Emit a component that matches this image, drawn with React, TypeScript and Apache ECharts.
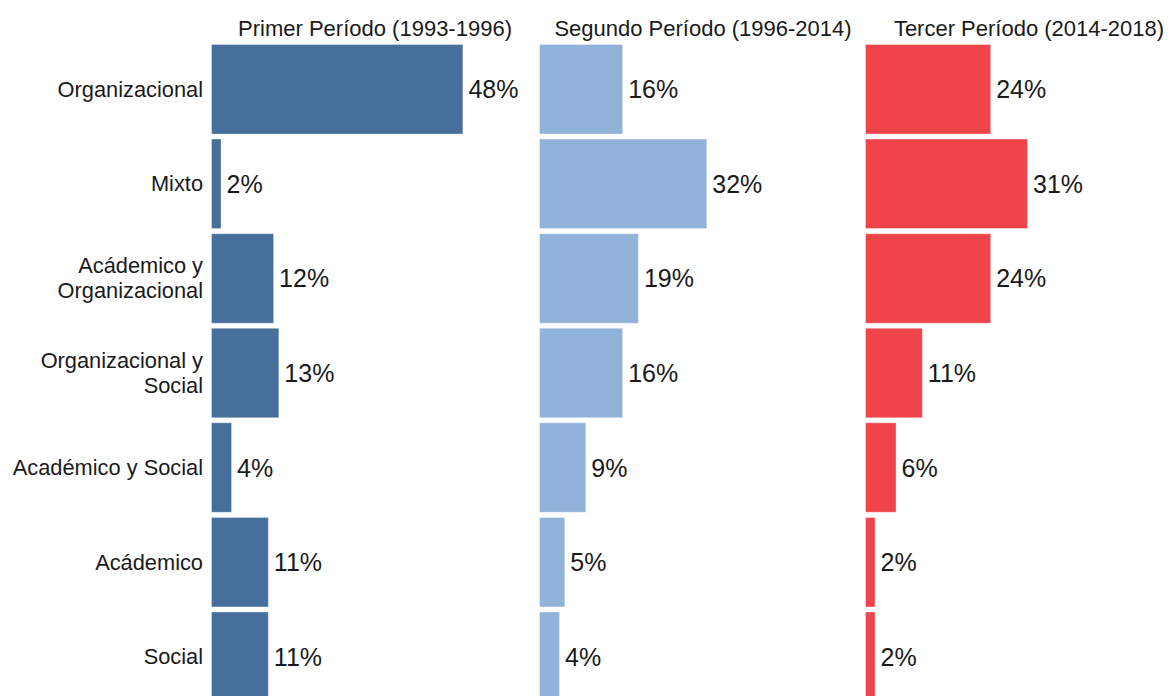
import React, { useEffect, useRef } from "react";
import * as echarts from "echarts";

const categories = [
  "Organizacional",
  "Mixto",
  "Acádemico y\nOrganizacional",
  "Organizacional y\nSocial",
  "Académico y Social",
  "Acádemico",
  "Social",
];
const periodTitles = [
  "Primer Período (1993-1996)",
  "Segundo Período (1996-2014)",
  "Tercer Período (2014-2018)",
];
const primerValues = [48, 2, 12, 13, 4, 11, 11];
const segundoValues = [16, 32, 19, 16, 9, 5, 4];
const tercerValues = [24, 31, 24, 11, 6, 2, 2];
const periodColors = ["#466F9C", "#92B3D9", "#EE444A"];

const FONT = "'Liberation Sans', Arial, Helvetica, sans-serif";

export default function App() {
  const ref = useRef<HTMLDivElement>(null);
  useEffect(() => {
    if (!ref.current) return;
    const chart = echarts.init(ref.current, null, { renderer: "svg" });
    const series = [primerValues, segundoValues, tercerValues];
    const lefts = [211, 539, 865];
    const width = 326;
    const top = 42;
    const height = 662;
    const xMax = 62;

    chart.setOption({
      animation: false,
      backgroundColor: "#ffffff",
      textStyle: { fontFamily: FONT },
      title: periodTitles.map((t, i) => ({
        text: t,
        left: lefts[i] + width / 2 - 4,
        top: 12,
        textAlign: "center",
        textStyle: {
          fontFamily: FONT,
          fontSize: 22,
          fontWeight: "normal",
          color: "#1a1a1a",
        },
      })),
      grid: lefts.map((l) => ({ left: l, top, width, height, containLabel: false })),
      xAxis: lefts.map((_, i) => ({
        type: "value",
        gridIndex: i,
        min: 0,
        max: xMax,
        show: false,
        splitLine: { show: false },
      })),
      yAxis: lefts.map((_, i) => ({
        type: "category",
        gridIndex: i,
        data: categories,
        inverse: true,
        axisLine: { show: false },
        axisTick: { show: false },
        splitLine: { show: false },
        axisLabel: {
          show: i === 0,
          margin: 8,
          fontSize: 21.8,
          lineHeight: 25,
          color: "#1a1a1a",
          fontFamily: FONT,
          align: "right",
        },
      })),
      series: series.map((vals, i) => ({
        type: "bar",
        xAxisIndex: i,
        yAxisIndex: i,
        data: vals,
        barCategoryGap: "4.3%",
        itemStyle: {
          color: periodColors[i],
          borderColor: "rgba(255,255,255,0.35)",
          borderWidth: 1,
        },
        label: {
          show: true,
          position: "right",
          distance: 5,
          formatter: "{c}%",
          fontSize: 25,
          color: "#1a1a1a",
          fontFamily: FONT,
        },
      })),
    });
    return () => chart.dispose();
  }, []);
  return (
    <div
      ref={ref}
      style={{ position: "fixed", left: 0, top: 0, width: 1210, height: 720 }}
    />
  );
}
